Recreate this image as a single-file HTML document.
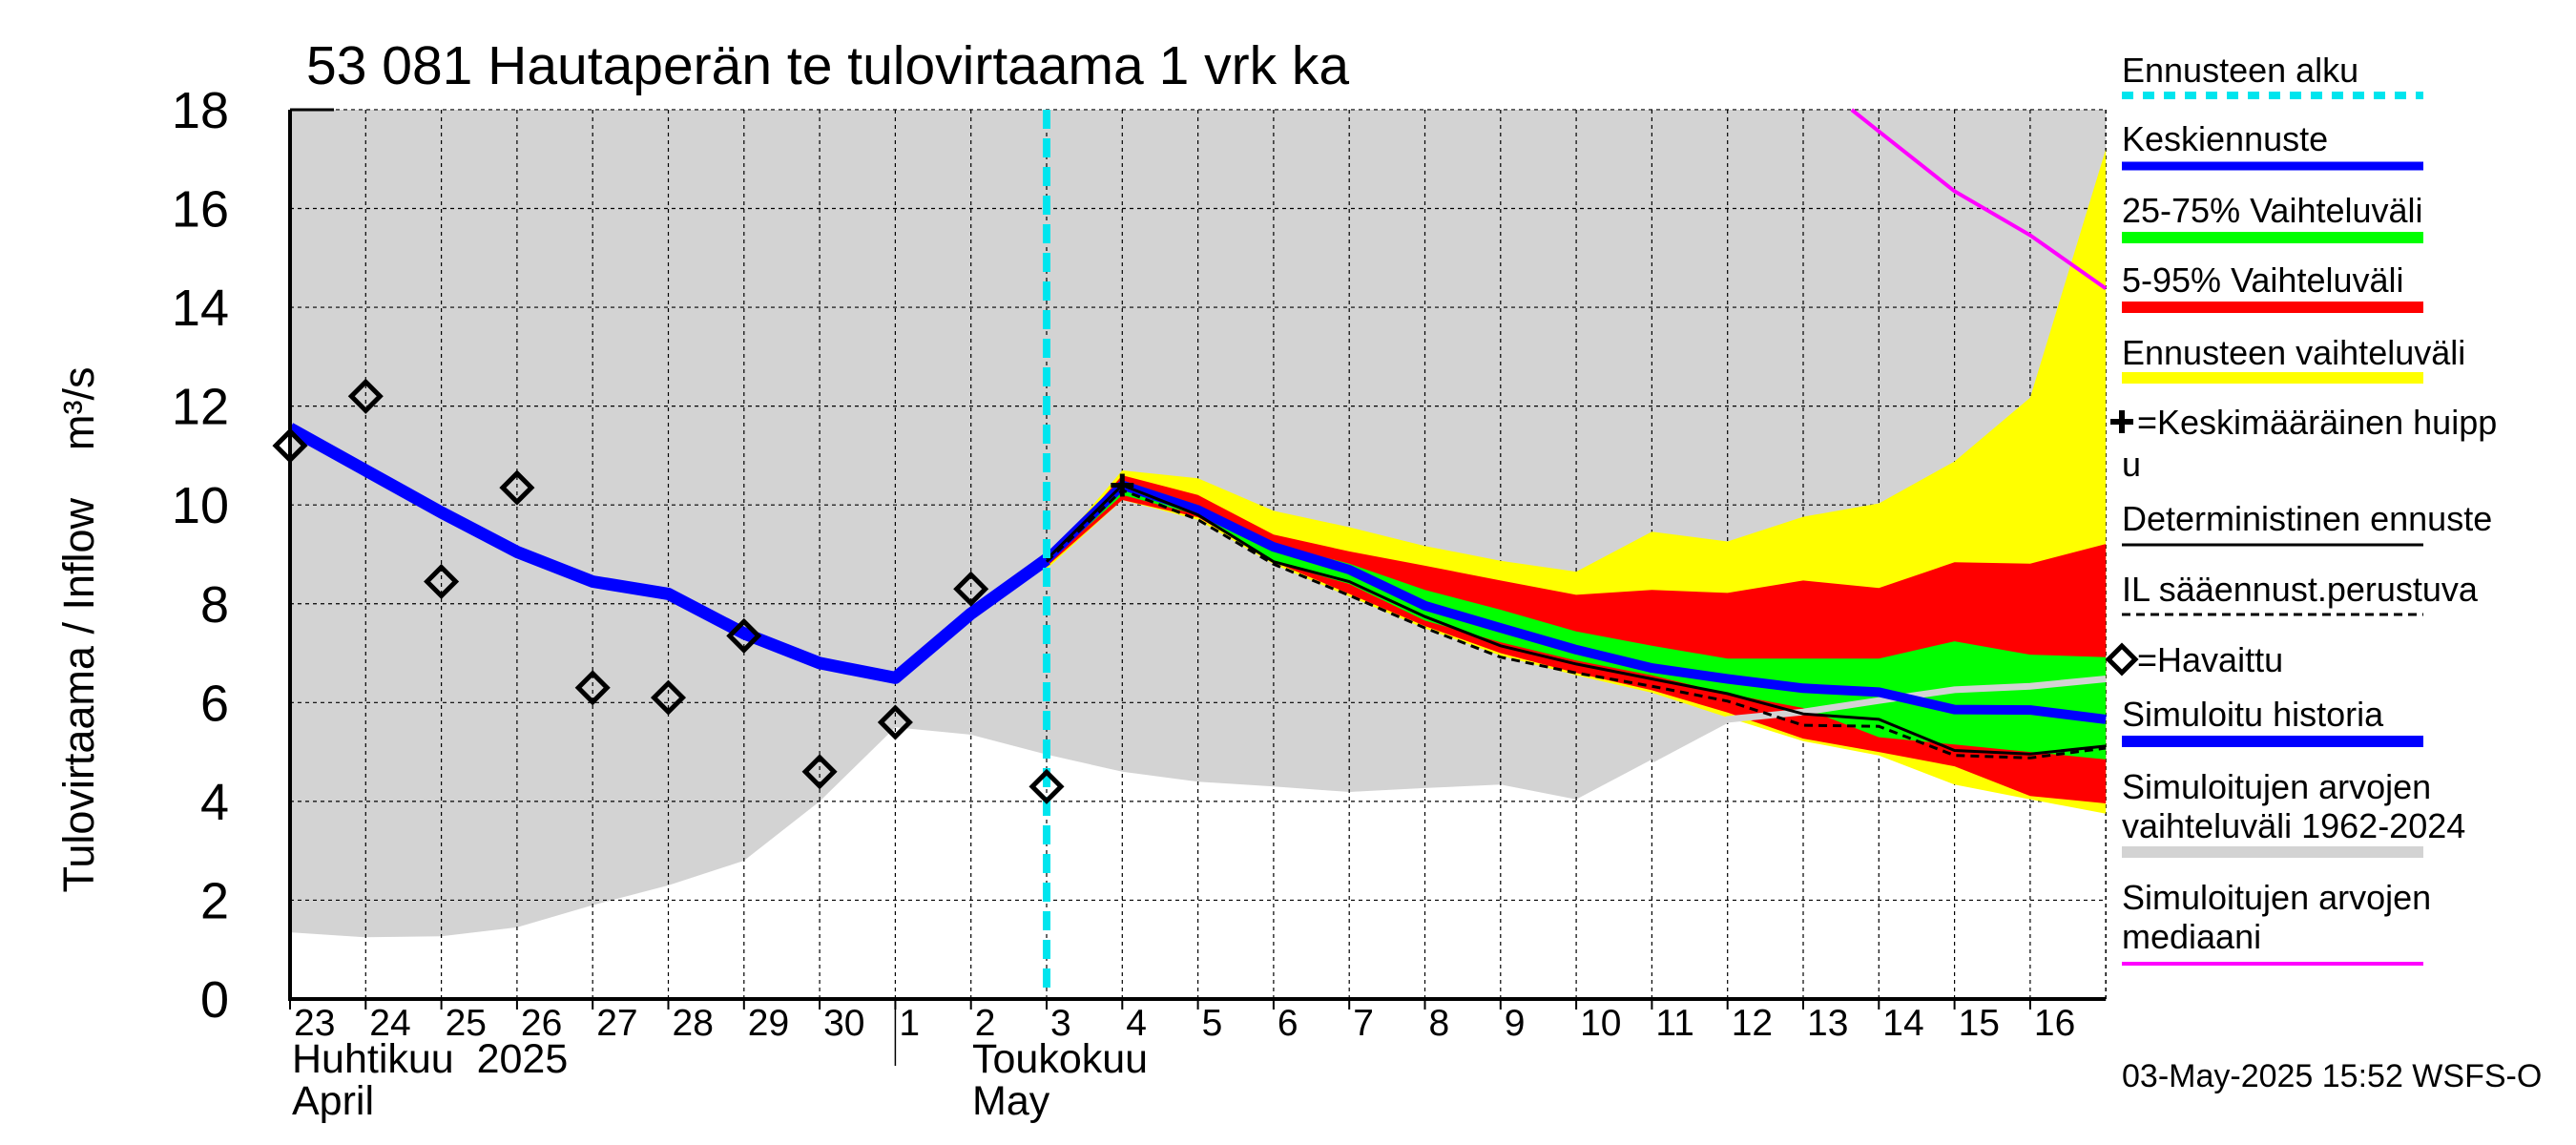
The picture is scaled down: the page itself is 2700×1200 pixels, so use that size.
<!DOCTYPE html>
<html><head><meta charset="utf-8"><style>
html,body{margin:0;padding:0;background:#fff;}
svg{display:block;font-family:"Liberation Sans",sans-serif;}
</style></head><body>
<svg id="c" width="2700" height="1200" viewBox="0 0 2700 1200" xmlns="http://www.w3.org/2000/svg">
<g id="plot"></g>
<g id="axes"></g>
<g id="legend"></g>
</svg>
<script>
const dayLabels=["23","24","25","26","27","28","29","30","1","2","3","4","5","6","7","8","9","10","11","12","13","14","15","16"];
const yTicks=[0,2,4,6,8,10,12,14,16,18];
const observed=[11.2,12.2,8.45,10.35,6.3,6.1,7.35,4.6,5.6,8.3,4.3];
const simHistory=[11.55,10.7,9.85,9.05,8.45,8.2,7.4,6.8,6.5,7.8,8.9];
const meanForecast=[8.9,10.4,9.9,9.15,8.69,7.96,7.51,7.07,6.7,6.48,6.29,6.21,5.86,5.85,5.66];
const grayLower=[1.35,1.25,1.27,1.45,1.9,2.3,2.8,4.0,5.5,5.35,4.95,4.6,4.4,4.3,4.19,4.27,4.34,4.04,4.85,5.66,5.81,6.04,6.26,6.33,6.48];
const yellowUpper=[8.9,10.7,10.54,9.88,9.55,9.17,8.87,8.65,9.46,9.26,9.76,10.03,10.88,12.17,17.2];
const yellowLower=[8.7,10.1,9.7,8.8,8.15,7.5,6.95,6.55,6.2,5.7,5.22,4.93,4.34,4.04,3.75];
const redUpper=[8.85,10.6,10.2,9.4,9.06,8.77,8.47,8.18,8.28,8.22,8.47,8.32,8.84,8.81,9.21];
const redLower=[8.75,10.1,9.75,8.85,8.2,7.55,7.0,6.6,6.25,5.8,5.27,5.0,4.71,4.11,3.96];
const greenUpper=[8.88,10.5,10.0,9.21,8.81,8.28,7.88,7.44,7.15,6.89,6.89,6.89,7.24,6.97,6.92];
const greenLower=[8.82,10.2,9.8,8.84,8.4,7.66,7.22,6.85,6.55,6.18,5.89,5.3,5.15,5.0,4.85];
const deterministic=[8.9,10.4,9.8,8.85,8.45,7.74,7.15,6.78,6.48,6.18,5.77,5.66,5.03,4.96,5.12];
const ilForecast=[8.85,10.3,9.7,8.8,8.17,7.51,6.92,6.6,6.33,6.03,5.54,5.52,4.93,4.88,5.08];
const medianX=[20.64,21,22,23,24];
const medianVal=[18.0,17.56,16.35,15.46,14.38];
const peakIdx=11, peakVal=10.4, fcStart=10;

const X0=304,DX=79.3,Y0=1047,DY=51.78;
const NS="http://www.w3.org/2000/svg";
const xs=i=>X0+i*DX, ys=v=>Y0-v*DY;
function mk(t,a,p){const e=document.createElementNS(NS,t);for(const k in a)e.setAttribute(k,a[k]);(p||plot).appendChild(e);return e;}
const plot=document.getElementById('plot'),axes=document.getElementById('axes'),legend=document.getElementById('legend');
function pts(arr,off){return arr.map((v,i)=>xs(i+off).toFixed(1)+','+ys(v).toFixed(1)).join(' ');}
function band(up,lo,off,col,name){
  const p=pts(up,off)+' '+lo.map((v,i)=>[i,v]).reverse().map(([i,v])=>xs(i+off).toFixed(1)+','+ys(v).toFixed(1)).join(' ');
  const e=mk('polygon',{points:p,fill:col});
  
  
}
{const top=grayLower.map(()=>18);band(top,grayLower,0,'#d3d3d3','simulated-range-band');}
for(let i=1;i<24;i++){const e=mk('line',{x1:xs(i),x2:xs(i),y1:ys(18),y2:ys(0),stroke:'#000','stroke-width':1.2,'stroke-dasharray':'4,4'});

}
yTicks.forEach(v=>{if(v>0){const e=mk('line',{x1:X0,x2:xs(24),y1:ys(v),y2:ys(v),stroke:'#000','stroke-width':1.2,'stroke-dasharray':'4,4'});

}});
{const e=mk('line',{x1:xs(24),x2:xs(24),y1:ys(18),y2:ys(0),stroke:'#000','stroke-width':1.5,'stroke-dasharray':'4,4'});

}
band(yellowUpper,yellowLower,fcStart,'#ffff00','forecast-range-band');
band(redUpper,redLower,fcStart,'#ff0000','band-5-95');
band(greenUpper,greenLower,fcStart,'#00ff00','band-25-75');
{const e=mk('polyline',{points:pts(grayLower.slice(18),18),fill:'none',stroke:'#d3d3d3','stroke-width':7});

}
{const p=medianX.map((x,i)=>xs(x).toFixed(1)+','+ys(medianVal[i]).toFixed(1)).join(' ');
const e=mk('polyline',{points:p,fill:'none',stroke:'#ff00ff','stroke-width':4});

}
{const e=mk('polyline',{points:pts(simHistory,0),fill:'none',stroke:'#0000ff','stroke-width':13,'stroke-linejoin':'round'});

}
{const e=mk('polyline',{points:pts(meanForecast,fcStart),fill:'none',stroke:'#0000ff','stroke-width':10,'stroke-linejoin':'round'});

}
{const e=mk('polyline',{points:pts(deterministic,fcStart),fill:'none',stroke:'#000','stroke-width':3});

}
{const e=mk('polyline',{points:pts(ilForecast,fcStart),fill:'none',stroke:'#000','stroke-width':3,'stroke-dasharray':'9,6'});

}
{const e=mk('line',{x1:xs(fcStart),x2:xs(fcStart),y1:ys(18),y2:ys(0),stroke:'#00e5ee','stroke-width':8,'stroke-dasharray':'20,10'});

}
observed.forEach((v,i)=>{const x=xs(i),y=ys(v),r=15;
const e=mk('polygon',{points:`${x},${y-r} ${x+r},${y} ${x},${y+r} ${x-r},${y}`,fill:'none',stroke:'#000','stroke-width':5});

});
{const x=xs(peakIdx),y=ys(peakVal);const g=mk('path',{d:`M${x-12},${y}H${x+12}M${x},${y-12}V${y+12}`,stroke:'#000','stroke-width':5});

}
{const e=mk('path',{d:`M${X0},${ys(18)}V${Y0}H${xs(24)}`,fill:'none',stroke:'#000','stroke-width':4},axes);

}
{const e=mk('line',{x1:X0,x2:350,y1:ys(18),y2:ys(18),stroke:'#000','stroke-width':3},axes);

}
function txt(p,x,y,s,str,name,extra){const t=mk('text',Object.assign({x:x,y:y,'font-size':s},extra||{}),p);t.textContent=str;

return t;}
yTicks.forEach(v=>{const t=mk('text',{x:240,y:ys(v)+19,'font-size':54,'text-anchor':'end'},axes);t.textContent=v;

});
dayLabels.forEach((d,i)=>{const t=mk('text',{x:xs(i)+4,y:1085,'font-size':39},axes);t.textContent=d;


const l=mk('line',{x1:xs(i),x2:xs(i),y1:Y0,y2:1058,stroke:'#000','stroke-width':2},axes);

});
{const e=mk('line',{x1:xs(8),x2:xs(8),y1:Y0,y2:1117,stroke:'#000','stroke-width':1.5},axes);

}
txt(axes,306,1124,43,'Huhtikuu\u00a0\u00a02025','month-label-fi');
txt(axes,306,1168,43,'April','month-label-en');
txt(axes,1019,1124,43,'Toukokuu','month-label-fi-may');
txt(axes,1019,1168,43,'May','month-label-en-may');
txt(axes,321,88,57,'53 081 Hautaperän te tulovirtaama 1 vrk ka','chart-title');
txt(axes,0,0,45,'Tulovirtaama / Inflow\u00a0\u00a0\u00a0\u00a0m³/s','y-axis-title',{transform:'translate(98,660) rotate(-90)','text-anchor':'middle'});
const LX=2224,LW=316;
function lline(y,col,w,dash,name){const e=mk('line',{x1:LX,x2:LX+LW,y1:y,y2:y,stroke:col,'stroke-width':w},legend);if(dash)e.setAttribute('stroke-dasharray',dash);

}
const LF=36;
txt(legend,LX,86,LF,'Ennusteen alku','legend-forecast-start');lline(100,'#00e5ee',8,'12,10','legend-forecast-start-swatch');
txt(legend,LX,158,LF,'Keskiennuste','legend-mean-forecast');lline(174,'#0000ff',9,null,'legend-mean-swatch');
txt(legend,LX,233,LF,'25-75% Vaihteluväli','legend-25-75');lline(249,'#00ff00',12,null,'legend-25-75-swatch');
txt(legend,LX,306,LF,'5-95% Vaihteluväli','legend-5-95');lline(322,'#ff0000',12,null,'legend-5-95-swatch');
txt(legend,LX,382,LF,'Ennusteen vaihteluväli','legend-forecast-range');lline(396,'#ffff00',12,null,'legend-range-swatch');
{const e=mk('path',{d:'M2212,442H2236M2224,430V454',stroke:'#000','stroke-width':6},legend);

}
txt(legend,2240,455,LF,'=Keskimääräinen huipp','legend-mean-peak');
txt(legend,LX,499,LF,'u','legend-mean-peak-cont');
txt(legend,LX,556,LF,'Deterministinen ennuste','legend-deterministic');lline(571,'#000',3,null,'legend-deterministic-swatch');
txt(legend,LX,630,LF,'IL sääennust.perustuva','legend-il-forecast');lline(644,'#000',3,'9,6','legend-il-swatch');
{const e=mk('polygon',{points:'2224,677 2238,691 2224,705 2210,691',fill:'none',stroke:'#000','stroke-width':5},legend);

}
txt(legend,2240,704,LF,'=Havaittu','legend-observed');
txt(legend,LX,761,LF,'Simuloitu historia','legend-sim-history');lline(777,'#0000ff',12,null,'legend-sim-history-swatch');
txt(legend,LX,837,LF,'Simuloitujen arvojen','legend-sim-range');
txt(legend,LX,878,LF,'vaihteluväli 1962-2024','legend-sim-range-cont');lline(893,'#d3d3d3',12,null,'legend-sim-range-swatch');
txt(legend,LX,953,LF,'Simuloitujen arvojen','legend-sim-median');
txt(legend,LX,994,LF,'mediaani','legend-sim-median-cont');lline(1010,'#ff00ff',4,null,'legend-median-swatch');
txt(legend,LX,1139,34,'03-May-2025 15:52 WSFS-O','timestamp');
</script>
</body></html>
